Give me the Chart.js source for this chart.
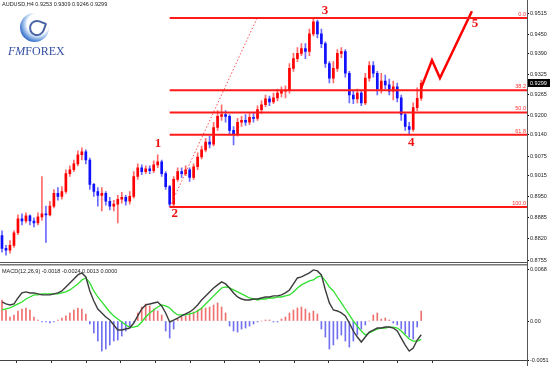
<!DOCTYPE html>
<html><head><meta charset="utf-8">
<script src="https://cdn.jsdelivr.net/npm/chart.js@4.4.0/dist/chart.umd.min.js"></script>
<style>
html,body{margin:0;padding:0;background:#fff;width:550px;height:366px;overflow:hidden;}
#wrap{position:relative;width:550px;height:366px;}
canvas{position:absolute;left:0;}
#c1{top:0;width:550px;height:266px;}
#c2{top:262px;width:550px;height:104px;}
.t{position:absolute;font-family:Arial,'Liberation Sans',sans-serif;color:#222;white-space:nowrap;line-height:1;}
</style></head><body>
<div id="wrap">
<canvas id="c1" width="550" height="266"></canvas>
<canvas id="c2" width="550" height="104"></canvas>
<div class="t" style="left:2px;top:2px;font-size:5.5px;">AUDUSD,H4 0.9253 0.9309 0.9246 0.9299</div>
<div style="position:absolute;left:20px;top:13px;width:29px;height:29px;border-radius:50%;background:radial-gradient(circle at 62% 38%, #ffffff 0 42%, #b8d2f2 52%, #4a7fd0 70%, #1d48a6 100%);"></div>
<div style="position:absolute;left:29px;top:20px;width:12px;height:12px;border:2px solid #1d3f8f;border-radius:50% 10% 50% 50%;transform:rotate(20deg);opacity:.8"></div>
<div class="t" style="left:8px;top:45px;font-family:'Liberation Serif','DejaVu Serif',serif;font-size:12px;color:#3550a5;"><i>FM</i>FOREX</div>
<div class="t" style="left:2px;top:269px;font-size:5.5px;">MACD(12,26,9) -0.0018 -0.0024 0.0013 0.0000</div>
</div>
<script>
// ---------- price data (AUDUSD H4) ----------
const open = [
.8830,.8791,.8785,.8800,.8839,.8882,.8875,.8891,.8875,.8869,
.8888,.8897,.8894,.8921,.8960,.8951,.8966,.9021,.9033,.9051,
.9079,.9088,.9063,.8988,.8966,.8954,.8960,.8936,.8921,.8927,
.8942,.8948,.8936,.8951,.9012,.9039,.9027,.9036,.9030,.9048,
.9057,.9021,.8981,.8927,.9003,.9027,.9021,.9033,.9009,.9042,
.9072,.9094,.9118,.9112,.9163,.9197,.9203,.9197,.9154,.9142,
.9179,.9185,.9179,.9194,.9191,.9218,.9233,.9251,.9242,.9254,
.9269,.9275,.9278,.9345,.9375,.9391,.9406,.9397,.9451,.9488,
.9451,.9421,.9360,.9315,.9345,.9391,.9397,.9330,.9263,.9251,
.9269,.9239,.9315,.9354,.9330,.9281,.9306,.9294,.9275,.9288,
.9254,.9203,.9166,.9157,.9224,.9253];
const high = [
.8845,.8800,.8815,.8845,.8894,.8897,.8900,.8894,.8885,.8900,
.9012,.8921,.8936,.8972,.8978,.8981,.9033,.9045,.9063,.9091,
.9100,.9094,.9069,.8991,.8978,.8978,.8966,.8948,.8939,.8954,
.8963,.8954,.8966,.9027,.9051,.9048,.9045,.9045,.9060,.9079,
.9063,.9027,.8985,.9012,.9039,.9039,.9045,.9039,.9051,.9085,
.9106,.9130,.9136,.9179,.9215,.9233,.9215,.9203,.9166,.9191,
.9197,.9203,.9206,.9209,.9230,.9245,.9263,.9260,.9269,.9281,
.9288,.9291,.9360,.9391,.9409,.9421,.9421,.9466,.9500,.9494,
.9466,.9427,.9366,.9366,.9403,.9409,.9403,.9336,.9275,.9281,
.9275,.9330,.9366,.9366,.9336,.9330,.9324,.9312,.9306,.9300,
.9263,.9209,.9179,.9239,.9285,.9309];
const low = [
.8779,.8770,.8776,.8794,.8833,.8863,.8869,.8863,.8857,.8863,
.8878,.8809,.8891,.8915,.8939,.8942,.8960,.9012,.9027,.9045,
.9063,.9051,.8972,.8951,.8921,.8906,.8924,.8909,.8906,.8869,
.8930,.8924,.8927,.8945,.9003,.9018,.9021,.9021,.9024,.9039,
.9012,.8972,.8918,.8921,.8997,.9009,.9015,.8997,.9003,.9033,
.9066,.9088,.9100,.9106,.9154,.9185,.9179,.9142,.9109,.9136,
.9166,.9169,.9172,.9179,.9185,.9206,.9227,.9230,.9236,.9245,
.9257,.9254,.9269,.9336,.9366,.9384,.9375,.9384,.9445,.9439,
.9409,.9348,.9300,.9300,.9336,.9378,.9318,.9239,.9236,.9239,
.9230,.9233,.9306,.9318,.9263,.9269,.9281,.9263,.9248,.9242,
.9185,.9154,.9142,.9151,.9215,.9246];
const close = [
.8791,.8785,.8800,.8839,.8882,.8875,.8891,.8875,.8869,.8888,
.8897,.8894,.8921,.8960,.8951,.8966,.9021,.9033,.9051,.9079,
.9088,.9063,.8988,.8966,.8954,.8960,.8936,.8921,.8927,.8942,
.8948,.8936,.8951,.9012,.9039,.9027,.9036,.9030,.9048,.9057,
.9021,.8981,.8927,.9003,.9027,.9021,.9033,.9009,.9042,.9072,
.9094,.9118,.9112,.9163,.9197,.9203,.9197,.9154,.9142,.9179,
.9185,.9179,.9194,.9191,.9218,.9233,.9251,.9242,.9254,.9269,
.9275,.9278,.9345,.9375,.9391,.9406,.9397,.9451,.9488,.9451,
.9421,.9360,.9315,.9345,.9391,.9397,.9330,.9263,.9251,.9269,
.9239,.9315,.9354,.9330,.9281,.9306,.9294,.9275,.9288,.9254,
.9203,.9166,.9157,.9224,.9253,.9299];

// ---------- MACD(12,26,9) ----------
const macdMain = [
.00249,.00223,.00210,.00223,.00301,.00367,.00380,.00367,.00367,.00354,
.00341,.00341,.00341,.00354,.00367,.00393,.00445,.00498,.00550,.00603,
.00629,.00576,.00393,.00262,.00157,.00105,.00052,.00013,-.00052,-.00118,
-.00118,-.00105,-.00092,-.00026,.00066,.00157,.00210,.00223,.00236,.00249,
.00197,.00105,-.00013,.00013,.00039,.00066,.00092,.00118,.00157,.00210,
.00275,.00328,.00380,.00432,.00472,.00511,.00485,.00432,.00367,.00314,
.00288,.00275,.00275,.00288,.00288,.00301,.00314,.00314,.00328,.00328,
.00341,.00367,.00406,.00485,.00563,.00576,.00603,.00629,.00668,.00655,
.00603,.00406,.00236,.00144,.00131,.00105,.00066,-.00026,-.00131,-.00210,
-.00275,-.00210,-.00144,-.00118,-.00092,-.00092,-.00079,-.00079,-.00092,-.00131,
-.00223,-.00314,-.00393,-.00354,-.00249,-.00180];
const macdSignal = [
.00144,.00157,.00170,.00197,.00223,.00249,.00288,.00314,.00341,.00341,
.00354,.00354,.00354,.00354,.00354,.00367,.00380,.00406,.00445,.00485,
.00537,.00563,.00498,.00393,.00314,.00249,.00183,.00118,.00066,.00026,
-.00013,-.00052,-.00079,-.00079,-.00066,-.00013,.00052,.00105,.00144,.00183,
.00210,.00197,.00170,.00118,.00079,.00079,.00079,.00092,.00105,.00131,
.00170,.00223,.00275,.00328,.00380,.00432,.00445,.00432,.00406,.00380,
.00354,.00328,.00301,.00288,.00275,.00288,.00288,.00301,.00301,.00314,
.00314,.00328,.00341,.00380,.00432,.00472,.00498,.00524,.00537,.00576,
.00589,.00524,.00445,.00393,.00314,.00236,.00157,.00079,0,-.00066,
-.00131,-.00183,-.00157,-.00131,-.00105,-.00092,-.00092,-.00079,-.00079,-.00092,
-.00131,-.00183,-.00236,-.00262,-.00262,-.00240];
const macdHist = [
.00275,.00144,.00052,.00079,.00131,.00157,.00170,.00144,.00052,.00013,
-.00013,-.00013,-.00026,-.00013,.00013,.00039,.00066,.00105,.00144,.00170,
.00157,.00092,-.00039,-.00157,-.00262,-.00393,-.00367,-.00314,-.00262,-.00249,
-.00197,-.00131,-.00079,-.00013,.00105,.00183,.00223,.00197,.00157,.00131,
.00079,-.00131,-.00223,-.00105,.00026,.00052,.00066,.00092,.00118,.00144,
.00170,.00170,.00183,.00210,.00236,.00183,.00105,-.00066,-.00131,-.00144,
-.00105,-.00092,-.00066,-.00039,-.00013,0,.00013,.00013,-.00013,-.00013,
.00026,.00052,.00105,.00144,.00170,.00183,.00157,.00105,.00131,.00092,
-.00105,-.00210,-.00367,-.00314,-.00236,-.00183,-.00262,-.00341,-.00262,-.00183,
-.00105,-.00052,0,.00079,.00105,.00026,.00039,.00013,-.00026,-.00052,
-.00105,-.00170,-.00210,-.00236,-.00079,.00130];

// ---------- axes / annotations ----------
const priceTicks = [0.9515,0.9450,0.9390,0.9325,0.9265,0.9200,0.9140,0.9075,0.9015,0.8950,0.8885,0.8820,0.8755];
const macdTicks = [-0.0051, 0, 0.0068];
const timeTicks = [8.0,16.7,25.4,34.1,42.8,51.4,60.1,68.8,77.5,86.2,94.8,103.5];
const fibAnchorIdx = [42, 63.9];
const fibAnchorPrice = [0.8918, 0.9500];
const fibLevels = [0.0, 38.2, 50.0, 61.8, 100.0];
const fibLabels = ['0.0','38.2','50.0','61.8','100.0'];
const waveLabels = ['1','2','3','4','5'];
const waveIdx = [39.1, 43.3, 80.9, 102.5, 118.5];
const wavePrice = [0.9112, 0.8897, 0.9524, 0.9115, 0.9482];
const projIdx = [105, 107.7, 109.7, 117.7];
const projPrice = [0.9285, 0.9370, 0.9315, 0.9521];

const SLOTS_MAX = 131.5;
const idx = close.map((_, i) => i);
const fibPrices = fibLevels.map(l => fibAnchorPrice[1] - l / 100 * (fibAnchorPrice[1] - fibAnchorPrice[0]));
const isUp = i => close[i] >= open[i];

const fibSets = fibPrices.map(p => ({
  type: 'line', data: [{x: fibAnchorIdx[0], y: p}, {x: SLOTS_MAX, y: p}],
  borderColor: '#ff1a1a', borderWidth: 2, pointRadius: 0, order: 0
}));

const mainOverlay = {
  id: 'mainOverlay',
  afterDatasetsDraw(chart) {
    const c = chart.ctx, xs = chart.scales.x, ys = chart.scales.y;
    c.save();
    c.font = '5.5px Arial'; c.fillStyle = '#ff3030'; c.textAlign = 'right'; c.textBaseline = 'bottom';
    fibPrices.forEach((p, k) => c.fillText(fibLabels[k], xs.getPixelForValue(SLOTS_MAX) - 1, ys.getPixelForValue(p) - 1));
    c.font = 'bold 13px "Liberation Serif", "Times New Roman", serif'; c.fillStyle = '#ee1111';
    c.textAlign = 'center'; c.textBaseline = 'middle';
    waveLabels.forEach((t, k) => c.fillText(t, xs.getPixelForValue(waveIdx[k]), ys.getPixelForValue(wavePrice[k])));
    c.restore();
  },
  afterDraw(chart) {
    const c = chart.ctx, ys = chart.scales.y, ca = chart.chartArea;
    c.save();
    c.fillStyle = '#555'; c.fillRect(Math.round(ca.right), 0, 1, chart.height);
    const last = close[close.length - 1];
    const y = Math.round(ys.getPixelForValue(last));
    c.fillStyle = '#000'; c.fillRect(ca.right + 1, y - 4, 22, 8);
    c.fillStyle = '#fff'; c.font = '5.5px Arial'; c.textAlign = 'left'; c.textBaseline = 'middle';
    c.fillText(last.toFixed(4), ca.right + 3, y + 0.5);
    c.restore();
  }
};

new Chart(document.getElementById('c1'), {
  type: 'bar',
  data: { datasets: [
    ...fibSets,
    { type: 'line', data: projIdx.map((x, k) => ({x, y: projPrice[k]})), borderColor: '#ff0000', borderWidth: 2.5, pointRadius: 0, order: 0 },
    { type: 'line', data: fibAnchorIdx.map((x, k) => ({x, y: fibAnchorPrice[k]})), borderColor: '#ff5050', borderWidth: 1, borderDash: [1.5, 2], pointRadius: 0, order: 0 },
    { type: 'bar', data: idx.map(i => ({x: i, y: [open[i], close[i]]})), barThickness: 2, minBarLength: 1, grouped: false, order: 1,
      backgroundColor: ctx => isUp(ctx.dataIndex) ? '#ff0000' : '#1010ff' },
    { type: 'bar', data: idx.map(i => ({x: i, y: [low[i], high[i]]})), barThickness: 1, grouped: false, order: 2,
      backgroundColor: ctx => isUp(ctx.dataIndex) ? '#ff6a6a' : '#6a6aff' }
  ]},
  options: {
    responsive: false, animation: false, devicePixelRatio: 1, events: [],
    layout: { padding: { left: 0, right: 0, top: 0, bottom: 6 } },
    plugins: { legend: { display: false }, tooltip: { enabled: false } },
    scales: {
      x: { type: 'linear', min: -0.5, max: SLOTS_MAX, offset: false, display: false },
      y: { position: 'right', min: 0.8755, max: 0.95423,
        afterBuildTicks: s => { s.ticks = priceTicks.map(v => ({ value: v })); },
        afterFit: s => { s.width = 23; },
        ticks: { autoSkip: false, font: { size: 5.5, family: 'Arial' }, color: '#222', padding: 1, callback: v => Number(v).toFixed(4) },
        grid: { drawOnChartArea: false, drawTicks: true, tickLength: 2, color: '#000' },
        border: { display: true, color: '#555' } }
    }
  },
  plugins: [mainOverlay]
});

const macdOverlay = {
  id: 'macdOverlay',
  afterDraw(chart) {
    const c = chart.ctx, ca = chart.chartArea;
    c.save();
    c.fillStyle = '#555'; c.fillRect(0, 0, ca.right, 1);
    c.fillStyle = '#777'; c.fillRect(0, 2, ca.right, 1.5);
    c.fillStyle = '#555'; c.fillRect(Math.round(ca.right), 0, 1, chart.height);
    c.restore();
  }
};

new Chart(document.getElementById('c2'), {
  type: 'bar',
  data: { datasets: [
    { type: 'line', data: idx.map(i => ({x: i, y: macdMain[i]})), borderColor: '#3c3c3c', borderWidth: 1.4, pointRadius: 0, order: 0 },
    { type: 'line', data: idx.map(i => ({x: i, y: macdSignal[i]})), borderColor: '#2fe02f', borderWidth: 1.3, pointRadius: 0, order: 1 },
    { type: 'bar', data: idx.map(i => ({x: i, y: macdHist[i]})), barThickness: 1, order: 2,
      backgroundColor: ctx => macdHist[ctx.dataIndex] >= 0 ? '#f07070' : '#7070f0' }
  ]},
  options: {
    responsive: false, animation: false, devicePixelRatio: 1, events: [],
    layout: { padding: { left: 0, right: 0, top: 7, bottom: 0 } },
    plugins: { legend: { display: false }, tooltip: { enabled: false } },
    scales: {
      x: { type: 'linear', min: -0.5, max: SLOTS_MAX, offset: false, position: 'bottom',
        afterBuildTicks: s => { s.ticks = timeTicks.map(v => ({ value: v })); },
        afterFit: s => { s.height = 6; },
        ticks: { display: false },
        grid: { drawOnChartArea: false, drawTicks: true, tickLength: 3, color: '#333' },
        border: { display: true, color: '#444' } },
      y: { position: 'right', min: -0.0051, max: 0.0068,
        afterBuildTicks: s => { s.ticks = macdTicks.map(v => ({ value: v })); },
        afterFit: s => { s.width = 23; },
        ticks: { autoSkip: false, font: { size: 5.5, family: 'Arial' }, color: '#222', padding: 1,
          callback: v => Number(v) === 0 ? '0.00' : Number(v).toFixed(4) },
        grid: { drawOnChartArea: false, drawTicks: true, tickLength: 2, color: '#000' },
        border: { display: true, color: '#555' } }
    }
  },
  plugins: [macdOverlay]
});
</script>
</body></html>
